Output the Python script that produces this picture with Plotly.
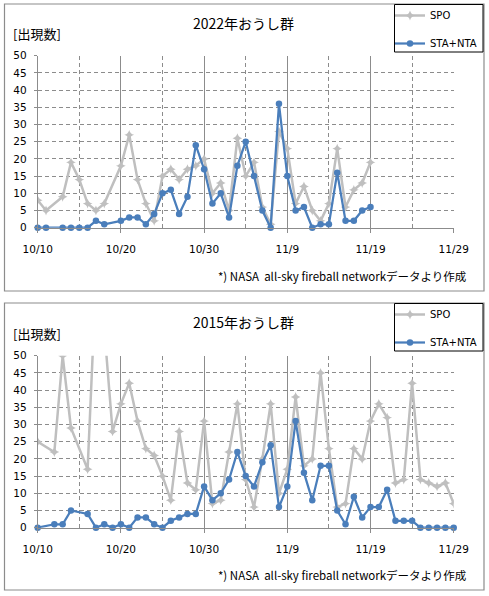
import plotly.graph_objects as go

# 2022 observations (dates with data only)
dates_2022 = ['2022-10-10', '2022-10-11', '2022-10-13', '2022-10-14', '2022-10-15',
              '2022-10-16', '2022-10-17', '2022-10-18', '2022-10-20', '2022-10-21',
              '2022-10-22', '2022-10-23', '2022-10-24', '2022-10-25', '2022-10-26',
              '2022-10-27', '2022-10-28', '2022-10-29', '2022-10-30', '2022-10-31',
              '2022-11-01', '2022-11-02', '2022-11-03', '2022-11-04', '2022-11-05',
              '2022-11-06', '2022-11-07', '2022-11-08', '2022-11-09', '2022-11-10',
              '2022-11-11', '2022-11-12', '2022-11-13', '2022-11-14', '2022-11-15',
              '2022-11-16', '2022-11-17', '2022-11-18', '2022-11-19']
spo_2022 = [8, 5, 9, 19, 14, 7, 5, 7, 18, 27,
            14, 7, 2, 15, 17, 14, 17, 18, 20, 10,
            13, 5, 26, 15, 19, 6, 1, 28, 23, 7,
            12, 5, 2, 7, 23, 6, 11, 13, 19]
sta_2022 = [0, 0, 0, 0, 0, 0, 2, 1, 2, 3,
            3, 1, 4, 10, 11, 4, 9, 24, 17, 7,
            10, 3, 18, 25, 15, 5, 0, 36, 15, 5,
            6, 0, 1, 1, 16, 2, 2, 5, 6]

# 2015 observations
dates_2015 = ['2015-10-10', '2015-10-12', '2015-10-13', '2015-10-14', '2015-10-16',
              '2015-10-17', '2015-10-18', '2015-10-19', '2015-10-20', '2015-10-21',
              '2015-10-22', '2015-10-23', '2015-10-24', '2015-10-25', '2015-10-26',
              '2015-10-27', '2015-10-28', '2015-10-29', '2015-10-30', '2015-10-31',
              '2015-11-01', '2015-11-02', '2015-11-03', '2015-11-04', '2015-11-05',
              '2015-11-06', '2015-11-07', '2015-11-08', '2015-11-09', '2015-11-10',
              '2015-11-11', '2015-11-12', '2015-11-13', '2015-11-14', '2015-11-15',
              '2015-11-16', '2015-11-17', '2015-11-18', '2015-11-19', '2015-11-20',
              '2015-11-21', '2015-11-22', '2015-11-23', '2015-11-24', '2015-11-25',
              '2015-11-26', '2015-11-27', '2015-11-28', '2015-11-29']
spo_2015 = [25, 22, 50, 29, 17, 72, 58, 28, 36, 42,
            31, 23, 21, 15, 8, 28, 13, 11, 31, 7,
            8, 22, 36, 14, 6, 20, 36, 10, 17, 38,
            18, 20, 45, 23, 6, 7, 23, 20, 31, 36,
            32, 13, 14, 42, 14, 13, 12, 13, 7]
sta_2015 = [0, 1, 1, 5, 4, 0, 1, 0, 1, 0,
            3, 3, 1, 0, 2, 3, 4, 4, 12, 8,
            10, 14, 22, 15, 12, 19, 24, 6, 12, 31,
            16, 8, 18, 18, 5, 1, 9, 3, 6, 6,
            11, 2, 2, 2, 0, 0, 0, 0, 0]

titles = ['2022年おうし群', '2015年おうし群']
ranges = [['2022-10-10', '2022-11-29'], ['2015-10-10', '2015-11-29']]
note = '*) NASA  all-sky fireball networkデータより作成'

W, H = 489, 596
DAY = 86400000
GRAY = '#BFBFBF'
BLUE = '#4A7EBB'
GRID = '#8C8C8C'
CJK = 'Noto Sans CJK JP'


def px(x):
    return x / W


def py(y):
    return 1 - y / H


fig = go.Figure()

# panel top edges (px) : 4 and 303
panels = [
    dict(x=dates_2022, spo=spo_2022, sta=sta_2022, top=4, bottom=291, y0=227.7, y50=55.7),
    dict(x=dates_2015, spo=spo_2015, sta=sta_2015, top=303, bottom=590, y0=527.7, y50=355.7),
]

shapes = []
annotations = []
for i, p in enumerate(panels):
    n = '' if i == 0 else str(i + 1)
    xa, ya = 'x' + n, 'y' + n
    leg = 'legend' + n

    fig.add_trace(go.Scatter(
        x=p['x'], y=p['spo'], name='SPO', xaxis=xa, yaxis=ya, legend=leg,
        mode='lines+markers', cliponaxis=True, legendgroup='a' + n,
        line=dict(color=GRAY, width=2.5),
        marker=dict(symbol='star-diamond', size=7, color=GRAY)))
    fig.add_trace(go.Scatter(
        x=p['x'], y=p['sta'], name='STA+NTA', xaxis=xa, yaxis=ya, legend=leg,
        mode='lines+markers', cliponaxis=False, legendgroup='b' + n,
        line=dict(color=BLUE, width=2.25),
        marker=dict(symbol='circle', size=6.5, color=BLUE)))

    fig.update_layout({
        'xaxis' + n: dict(
            domain=[px(37.7), px(453.7)], anchor=ya, type='date',
            range=ranges[i], tick0=ranges[i][0], dtick=10 * DAY,
            tickformat='%-m/%-d', ticks='outside', ticklen=4, tickcolor=GRID,
            showgrid=True, gridcolor=GRID, gridwidth=1,
            minor=dict(tick0=ranges[i][0], dtick=5 * DAY, showgrid=True,
                       gridcolor=GRID, griddash='4px,3px', ticks=''),
            showline=True, linecolor=GRID, linewidth=1, automargin=False,
            tickfont=dict(family='DejaVu Sans', size=10.5, color='#000'),
            ticklabelstandoff=8, fixedrange=True),
        'yaxis' + n: dict(
            domain=[py(p['y0']), py(p['y50'])], anchor=xa,
            range=[0, 50], dtick=5, ticks='outside', ticklen=3, tickcolor=GRID,
            showgrid=True, gridcolor=GRID, griddash='4px,3px',
            zeroline=False, showline=True, linecolor=GRID, linewidth=1,
            automargin=False,
            tickfont=dict(family='DejaVu Sans', size=10.5, color='#000'),
            ticklabelstandoff=5, fixedrange=True),
        leg: dict(
            x=px(390), y=py(p['top'] - 3), xanchor='left', yanchor='top',
            borderwidth=0, bgcolor='rgba(0,0,0,0)',
            font=dict(family='DejaVu Sans', size=10, color='#000'),
            itemwidth=30, tracegroupgap=9, traceorder='grouped'),
    })

    # panel frame and legend frame
    shapes.append(dict(type='rect', xref='paper', yref='paper',
                       x0=px(4.5), x1=px(484), y0=py(p['bottom']), y1=py(p['top']),
                       line=dict(color='#8C8C8C', width=1.2), layer='below'))
    shapes.append(dict(type='rect', xref='paper', yref='paper',
                       x0=px(394.5), x1=px(483), y0=py(p['top'] + 48), y1=py(p['top'] + 0.5),
                       line=dict(color='#000', width=1), fillcolor='white', layer='below'))

    annotations.append(dict(text=titles[i], x=px(243), y=py(p['top'] + 19),
                            xref='paper', yref='paper', showarrow=False,
                            xanchor='center', yanchor='middle',
                            font=dict(family=CJK, size=14, color='#000')))
    annotations.append(dict(text='[出現数]', x=px(11), y=py(p['top'] + 30),
                            xref='paper', yref='paper', showarrow=False,
                            xanchor='left', yanchor='middle',
                            font=dict(family=CJK, size=13, color='#000')))
    annotations.append(dict(text=note, x=px(469), y=py(p['top'] + 272),
                            xref='paper', yref='paper', showarrow=False,
                            xanchor='right', yanchor='middle',
                            font=dict(family=CJK, size=11.5, color='#000')))

fig.update_layout(
    width=W, height=H,
    margin=dict(l=0, r=0, t=0, b=0, autoexpand=False),
    paper_bgcolor='white', plot_bgcolor='white',
    shapes=shapes, annotations=annotations,
    showlegend=True,
)

# page has a default 8px body margin; drop it so the figure sits at 0,0
fig.write_html("out.html", config={'displayModeBar': False},
               post_script="document.body.style.margin='0';")
